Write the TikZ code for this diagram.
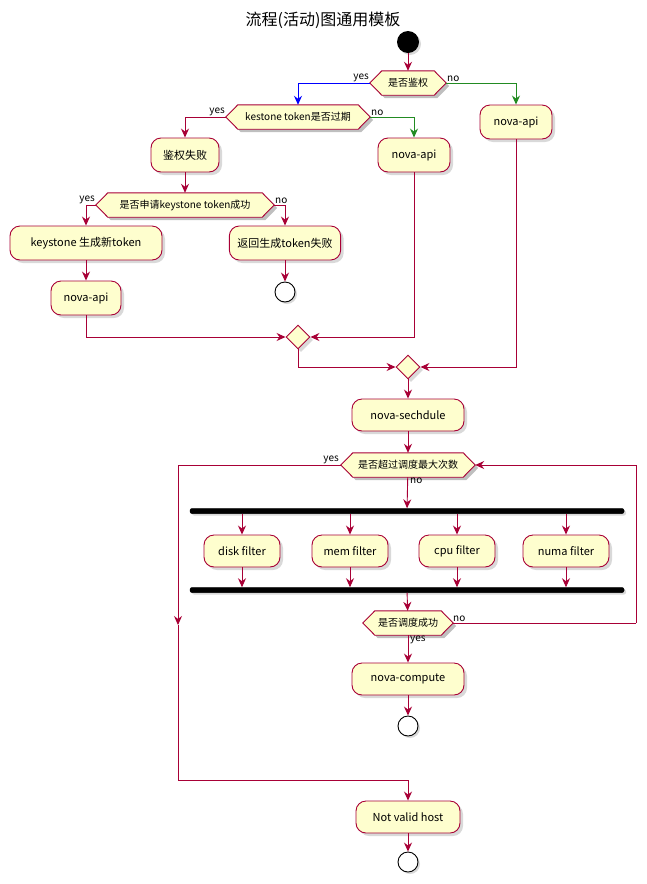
\documentclass[tikz,border=0pt]{standalone}
\usepackage{fontspec}
\setmainfont{Noto Sans CJK SC}
\usetikzlibrary{arrows.meta,shapes.geometric,backgrounds,shadows}
\definecolor{boxf}{HTML}{FEFECE}
\definecolor{red1}{HTML}{A80036}
\definecolor{grn}{HTML}{228B22}
\tikzset{
 box/.style={draw=red1,fill=boxf,line width=0.9pt,rounded corners=10pt,minimum height=34pt,inner xsep=8pt,font=\fontsize{11}{13}\selectfont,drop shadow={shadow xshift=3pt,shadow yshift=-3pt,opacity=.3}},
 hex/.style={inner xsep=12pt,minimum height=24pt,inner ysep=0pt,font=\fontsize{10}{12}\selectfont},
 merge/.style={diamond,draw=red1,fill=boxf,line width=0.9pt,minimum size=24pt,inner sep=0pt,drop shadow={shadow xshift=3pt,shadow yshift=-3pt,opacity=.3}},
 st/.style={circle,fill=black,minimum size=22pt,inner sep=0pt,drop shadow={shadow xshift=2pt,shadow yshift=-2pt,opacity=.3}},
 stop/.style={circle,draw=black,line width=0.9pt,fill=white,minimum size=20pt,inner sep=0pt,path picture={\fill (path picture bounding box.center) circle (6pt);},drop shadow={shadow xshift=2pt,shadow yshift=-2pt,opacity=.3}},
 ar/.style={draw=red1,line width=0.9pt,-{Stealth[length=9pt,width=8pt,inset=3pt]}},
 ln/.style={draw=red1,line width=0.9pt},
 lab/.style={font=\fontsize{10}{12}\selectfont,inner sep=1pt},
 bar/.style={draw=black,fill=black,rounded corners=2pt,line width=0.5pt,drop shadow={shadow xshift=2pt,shadow yshift=-2pt,opacity=.3}}
}
\newcommand\hexbg[1]{\begin{scope}[on background layer]
\fill[black,opacity=.25] ([shift={(3pt,-3pt)}]#1.west) -- ([shift={(15pt,-3pt)}]#1.north west) -- ([shift={(-9pt,-3pt)}]#1.north east) -- ([shift={(3pt,-3pt)}]#1.east) -- ([shift={(-9pt,-3pt)}]#1.south east) -- ([shift={(15pt,-3pt)}]#1.south west) -- cycle;
\filldraw[draw=red1,fill=boxf,line width=0.9pt] (#1.west) -- ([xshift=12pt]#1.north west) -- ([xshift=-12pt]#1.north east) -- (#1.east) -- ([xshift=-12pt]#1.south east) -- ([xshift=12pt]#1.south west) -- cycle;
\end{scope}}
\begin{document}
\begin{tikzpicture}[x=1pt,y=-1pt]
\useasboundingbox (0,0) rectangle (646,884);
\node[font=\fontsize{16}{18}\selectfont] (title) at (323,20) {流程(活动)图通用模板};
\node[st] (start) at (408,42) {};
\node[hex,minimum width=76pt] (d1) at (408,83) {是否鉴权}; \hexbg{d1}
\node[hex,minimum width=144pt] (d2) at (298,117) {kestone token是否过期}; \hexbg{d2}
\node[box,minimum width=72pt] (apiC) at (516,122) {nova-api};
\node[box,minimum width=68pt] (fail) at (185,155) {鉴权失败};
\node[box,minimum width=72pt] (apiB) at (414,155) {nova-api};
\node[hex,minimum width=178pt] (d3) at (185,205) {是否申请keystone token成功}; \hexbg{d3}
\node[box,minimum width=152pt] (newtok) at (86,243) {keystone 生成新token};
\node[box,minimum width=102pt] (ret) at (285,243) {返回生成token失败};
\node[box,minimum width=70pt] (apiA) at (86,298) {nova-api};
\node[stop] (stop1) at (285,292) {};
\node[merge] (m1) at (298,337) {};
\node[merge] (m2) at (408,367) {};
\node[box,minimum width=112pt,minimum height=32pt] (sched) at (408,415) {nova-sechdule};
\node[hex,minimum width=134pt] (d4) at (408,465) {是否超过调度最大次数}; \hexbg{d4}
\node[bar,minimum width=434pt,minimum height=5pt,inner sep=0pt] (fork) at (407,511) {};
\node[box,minimum width=76pt,minimum height=32pt] (disk) at (242,551) {disk filter};
\node[box,minimum width=76pt,minimum height=32pt] (mem) at (350,551) {mem filter};
\node[box,minimum width=76pt,minimum height=32pt] (cpu) at (457,551) {cpu filter};
\node[box,minimum width=86pt,minimum height=32pt] (numa) at (566,551) {numa filter};
\node[bar,minimum width=434pt,minimum height=5pt,inner sep=0pt] (join) at (407,590) {};
\node[hex,minimum width=90pt] (d5) at (408,623) {是否调度成功}; \hexbg{d5}
\node[box,minimum width=112pt,minimum height=32pt] (comp) at (408,679) {nova-compute};
\node[stop] (stop2) at (408,726) {};
\node[box,minimum width=104pt,minimum height=32pt] (nvh) at (408,817) {Not valid host};
\node[stop] (stop3) at (408,862) {};
\coordinate (loopR) at (636,623);
\coordinate (yesL) at (178,625);
\coordinate (yesB) at (178,780);
% connectors
\draw[ar] (start) -- (d1);
\draw[ar,draw=blue] (d1.west) -| (d2.north);
\node[lab,anchor=south east] (l1) at (370,83) {yes};
\draw[ar,draw=grn] (d1.east) -| (apiC.north);
\node[lab,anchor=south west] (l2) at (446,83) {no};
\draw[ar] (d2.west) -| (fail.north);
\node[lab,anchor=south east] (l3) at (226,117) {yes};
\draw[ar,draw=grn] (d2.east) -| (apiB.north);
\node[lab,anchor=south west] (l4) at (370,117) {no};
\draw[ar] (fail) -- (d3);
\draw[ar] (d3.west) -| (newtok.north);
\node[lab,anchor=south east] (l5) at (96,205) {yes};
\draw[ar] (d3.east) -| (ret.north);
\node[lab,anchor=south west] (l6) at (274,205) {no};
\draw[ar] (newtok) -- (apiA);
\draw[ar] (ret) -- (stop1);
\draw[ar] (apiA.south) |- (m1.west);
\draw[ar] (apiB.south) |- (m1.east);
\draw[ar] (m1.south) |- (m2.west);
\draw[ar] (apiC.south) |- (m2.east);
\draw[ar] (m2) -- (sched);
\draw[ar] (sched) -- (d4);
\draw[ar] (d4) -- (fork);
\node[lab,anchor=north west] (l7) at (409,477) {no};
\foreach \b in {disk,mem,cpu,numa}{
 \draw[ar] (fork.south -| \b) -- (\b.north);
 \draw[ar] (\b.south) -- (join.north -| \b);
}
\draw[ar] (join) -- (d5);
\draw[ln] (d5.east) -- (loopR);
\draw[ar] (loopR) |- (d4.east);
\node[lab,anchor=south west] (l8) at (452,623) {no};
\draw[ar] (d5) -- (comp);
\node[lab,anchor=north west] (l9) at (409,635) {yes};
\draw[ar] (comp) -- (stop2);
\draw[ar] (d4.west) -| (yesL);
\node[lab,anchor=south east] (l10) at (340,465) {yes};
\draw[ar] (yesL) -- (yesB) -| (nvh.north);
\draw[ar] (nvh) -- (stop3);
\end{tikzpicture}
\end{document}
